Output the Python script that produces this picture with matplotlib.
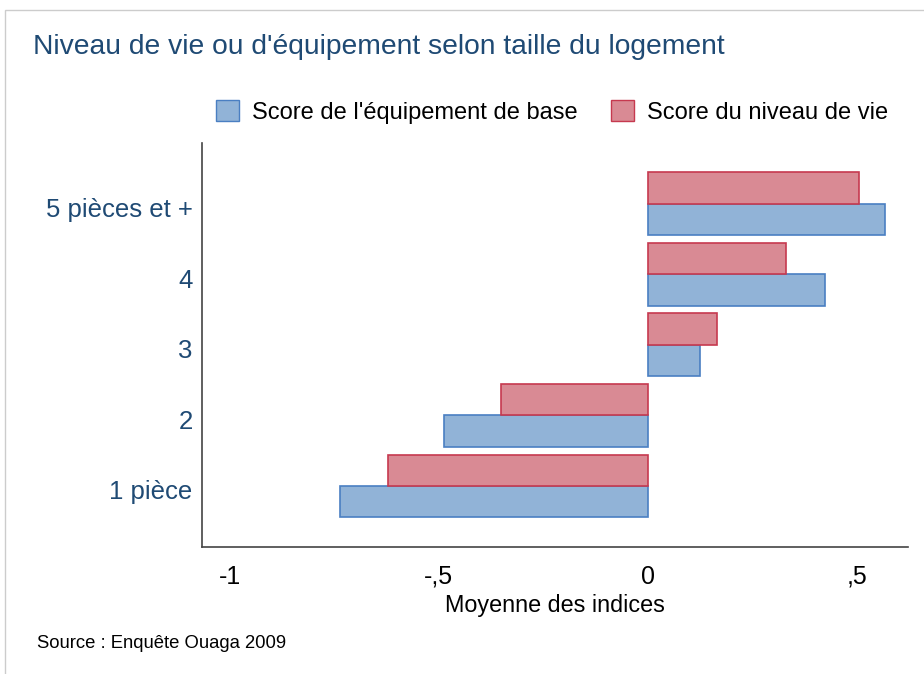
import matplotlib.pyplot as plt
import matplotlib.transforms as mtransforms
from matplotlib.patches import Patch, Rectangle

categories = ['1 pièce', '2', '3', '4', '5 pièces et +']
score_equipement = [-0.736, -0.487, 0.125, 0.424, 0.568]
score_niveau_vie = [-0.621, -0.351, 0.165, 0.330, 0.505]
xticks = [-1, -0.5, 0, 0.5]
xtick_labels = ['-1', '-,5', '0', ',5']

plt.rcParams['font.family'] = ['Liberation Sans', 'DejaVu Sans']

blue_fill, blue_edge = '#91b3d7', '#4a7fc2'
red_fill, red_edge = '#d98a94', '#c6394f'
title_col = '#1f4a74'

fig = plt.figure(figsize=(9.24, 6.74), dpi=100)
ax = fig.add_axes([0.219, 0.189, 0.764, 0.599])

h = 0.445
pos = range(1, len(categories) + 1)
ax.barh([p - h / 2 for p in pos], score_equipement, height=h,
        color=blue_fill, edgecolor=blue_edge, linewidth=1.2)
ax.barh([p + h / 2 for p in pos], score_niveau_vie, height=h,
        color=red_fill, edgecolor=red_edge, linewidth=1.2)

ax.set_xlim(-1.066, 0.623)
ax.set_ylim(0.14, 5.86)
ax.set_yticks(list(pos))
ax.set_yticklabels(categories, fontsize=18.5, color=title_col)
ax.set_xticks(xticks)
ax.set_xticklabels(xtick_labels, fontsize=18)
ax.tick_params(axis='y', length=0, pad=7)
ax.tick_params(axis='x', length=0, pad=13)
ax.set_xlabel('Moyenne des indices', fontsize=16.8, labelpad=4)

# labels sit a little below the group centre in the original
shift = mtransforms.ScaledTranslation(0, -4 / 100, fig.dpi_scale_trans)
for lab in ax.get_yticklabels():
    lab.set_transform(lab.get_transform() + shift)

for s in ['top', 'right']:
    ax.spines[s].set_visible(False)
for s in ['left', 'bottom']:
    ax.spines[s].set_color('#444444')
    ax.spines[s].set_linewidth(1.2)

fig.text(33 / 924, 1 - 47 / 674, "Niveau de vie ou d'équipement selon taille du logement",
         fontsize=20.3, color=title_col, va='center', ha='left')

handles = [Patch(facecolor=blue_fill, edgecolor=blue_edge, label="Score de l'équipement de base"),
           Patch(facecolor=red_fill, edgecolor=red_edge, label='Score du niveau de vie')]
fig.legend(handles=handles, ncol=2, frameon=False, fontsize=17,
           loc='center right', bbox_to_anchor=(0.961, 1 - 112 / 674),
           handlelength=0.95, handleheight=0.95, handletextpad=0.55, columnspacing=1.45,
           borderaxespad=0, borderpad=0)

fig.text(37 / 924, 1 - 643 / 674, 'Source : Enquête Ouaga 2009', fontsize=13.3,
         va='center', ha='left')

fig.add_artist(Rectangle((5 / 924, -0.1), 1.2, 1 - 10 / 674 + 0.1, transform=fig.transFigure,
                         fill=False, edgecolor='#cccccc', linewidth=1))

fig.savefig('out.png', dpi=100)
